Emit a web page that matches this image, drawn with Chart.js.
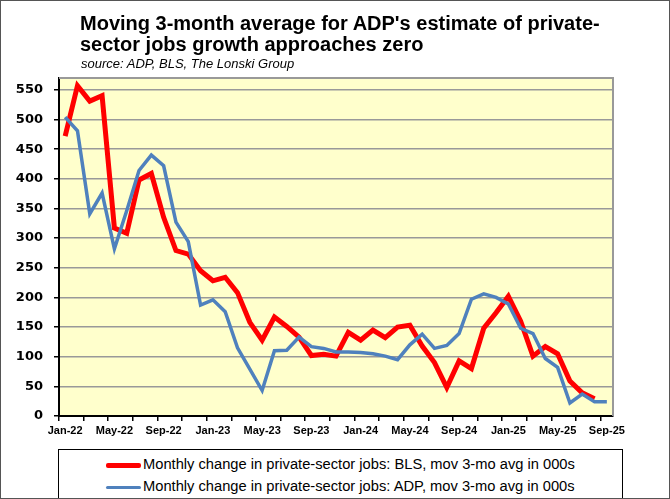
<!DOCTYPE html>
<html lang="en">
<head>
  <meta charset="UTF-8">
  <title>ADP vs BLS private-sector jobs</title>
  <style>
    body {
      margin: 0;
      background: white;
      font-family: "Liberation Sans", Arial, sans-serif;
    }
    #frame {
      position: relative;
      width: 670px;
      height: 499px;
      box-sizing: border-box;
      border: 1px solid #555;
      overflow: hidden;
    }
    #chart {
      position: absolute;
      left: 0;
      top: 0;
    }
    .title {
      position: absolute;
      left: 79px;
      top: 12px;
      font-size: 20px;
      font-weight: bold;
      line-height: 21px;
      color: #000;
    }
    .source {
      position: absolute;
      left: 80px;
      top: 55px;
      font-size: 13px;
      font-style: italic;
      line-height: 15px;
      color: #000;
    }
    #legend {
      position: absolute;
      left: 57px;
      top: 448px;
      width: 565px;
      height: 52px;
      box-sizing: border-box;
      border: 1px solid #000;
      background: white;
    }
    .row {
      position: absolute;
      left: 47px;
      font-size: 14.7px;
      line-height: 16px;
      white-space: nowrap;
    }
    .row span.swatch {
      display: inline-block;
      width: 35px;
      vertical-align: middle;
      margin-right: 2px;
      border-radius: 2px;
    }
  </style>
</head>
<body>
<div id="frame">
  <canvas id="chart" width="670" height="499"></canvas>
  <div class="title">Moving 3-month average for ADP's estimate of private-<br>sector jobs growth approaches zero</div>
  <div class="source">source: ADP, BLS, The Lonski Group</div>
  <div id="legend">
    <div class="row" style="top:6px"><span class="swatch" style="height:5px;background:#ff0000"></span>Monthly change in private-sector jobs: BLS, mov 3-mo avg in 000s</div>
    <div class="row" style="top:28px"><span class="swatch" style="height:3px;background:#4f81bd"></span>Monthly change in private-sector jobs: ADP, mov 3-mo avg in 000s</div>
  </div>
</div>

<script src="https://cdn.jsdelivr.net/npm/chart.js"></script>
<script>
  const months = [
    'Jan-22','Feb-22','Mar-22','Apr-22','May-22','Jun-22','Jul-22','Aug-22','Sep-22','Oct-22','Nov-22','Dec-22',
    'Jan-23','Feb-23','Mar-23','Apr-23','May-23','Jun-23','Jul-23','Aug-23','Sep-23','Oct-23','Nov-23','Dec-23',
    'Jan-24','Feb-24','Mar-24','Apr-24','May-24','Jun-24','Jul-24','Aug-24','Sep-24','Oct-24','Nov-24','Dec-24',
    'Jan-25','Feb-25','Mar-25','Apr-25','May-25','Jun-25','Jul-25','Aug-25','Sep-25'
  ];

  // BLS, 3-mo moving avg, thousands (no Sep-25 yet)
  const bls = [
    472, 557, 531, 540, 317, 308, 398, 409, 335, 279, 273, 245,
    228, 234, 208, 158, 128, 167, 151, 133, 102, 104, 101, 141,
    128, 145, 132, 150, 153, 118, 90, 48, 93, 80, 148, 174,
    202, 160, 101, 117, 105, 59, 39, 29, null
  ];

  // ADP, 3-mo moving avg, thousands
  const adp = [
    504, 481, 341, 376, 282, 346, 414, 440, 422, 327, 294, 187,
    196, 176, 115, 79, 43, 110, 111, 133, 117, 114, 108, 108,
    107, 105, 101, 95, 120, 138, 114, 119, 139, 197, 206, 200,
    189, 148, 139, 97, 82, 22, 37, 24, 24
  ];

  const yTicks = [0, 50, 100, 150, 200, 250, 300, 350, 400, 450, 500, 550];
  const yMax = 570;

  // yellow plot background + grey frame
  const plotBox = {
    id: 'plotBox',
    beforeDraw(chart) {
      const a = chart.chartArea;
      const c = chart.ctx;
      c.save();
      c.fillStyle = '#ffffcc';
      c.fillRect(a.left, a.top, a.right - a.left, a.bottom - a.top);
      c.restore();
    },
    beforeDatasetsDraw(chart) {
      const a = chart.chartArea;
      const c = chart.ctx;
      c.save();
      c.strokeStyle = '#999';
      c.lineWidth = 2;
      c.beginPath();
      c.moveTo(a.left, a.top);
      c.lineTo(a.right, a.top);
      c.lineTo(a.right, a.bottom);
      c.stroke();
      c.restore();
    }
  };

  const ctx = document.getElementById('chart').getContext('2d');
  new Chart(ctx, {
    type: 'line',
    data: {
      labels: months,
      datasets: [
        {
          label: 'Monthly change in private-sector jobs: BLS, mov 3-mo avg in 000s',
          data: bls,
          borderColor: '#ff0000',
          borderWidth: 5,
          pointRadius: 0,
          tension: 0,
          order: 2
        },
        {
          label: 'Monthly change in private-sector jobs: ADP, mov 3-mo avg in 000s',
          data: adp,
          borderColor: '#4f81bd',
          borderWidth: 3.5,
          pointRadius: 0,
          tension: 0,
          order: 1
        }
      ]
    },
    options: {
      responsive: false,
      animation: false,
      layout: { padding: { top: 77, right: 58, left: 0, bottom: 0 } },
      plugins: {
        legend: { display: false },
        tooltip: { enabled: false }
      },
      scales: {
        x: {
          offset: true,
          afterFit(s) { s.height = 84; },
          grid: {
            offset: true,
            drawOnChartArea: false,
            tickLength: 5,
            lineWidth: 1.5,
            color: c => (c.index % 2 === 0 ? '#000' : 'rgba(0,0,0,0)')
          },
          border: { color: '#000', width: 2 },
          ticks: {
            autoSkip: false,
            maxRotation: 0,
            padding: 3,
            color: '#000',
            font: { family: 'Liberation Sans', size: 11, weight: 'bold' },
            callback: (v, i) => (i % 4 === 0 ? months[i] : '')
          }
        },
        y: {
          min: 0,
          max: yMax,
          afterFit(s) { s.width = 58; },
          afterBuildTicks(s) { s.ticks = yTicks.map(v => ({ value: v })); },
          grid: {
            color: '#999',
            lineWidth: 1.5,
            tickLength: 5,
            tickColor: '#000'
          },
          border: { color: '#000', width: 2 },
          ticks: {
            padding: 11,
            color: '#000',
            font: { family: 'DejaVu Sans', size: 13, weight: 'bold' }
          }
        }
      }
    },
    plugins: [plotBox]
  });
</script>
</body>
</html>
